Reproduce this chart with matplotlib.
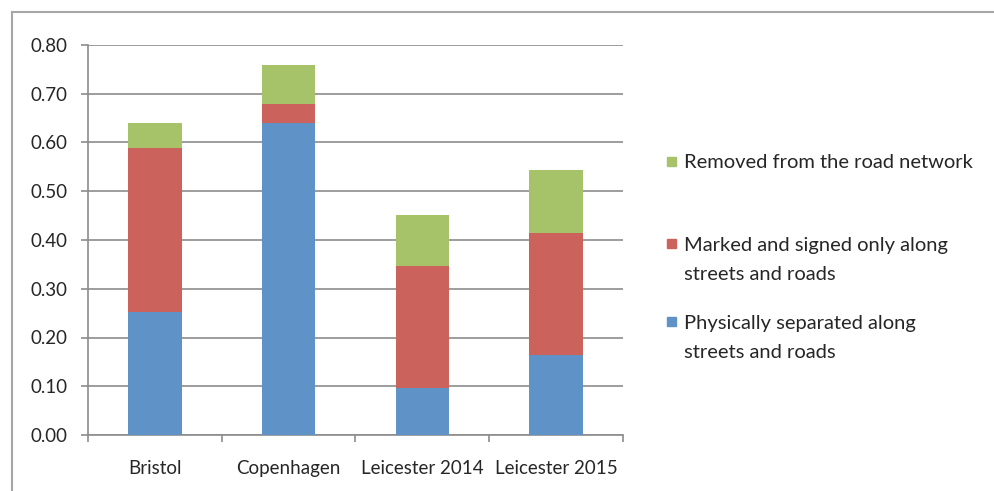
import matplotlib.pyplot as plt
from matplotlib.patches import Rectangle
from matplotlib.lines import Line2D
import numpy as np

# datos
ciudades = ['Bristol', 'Copenhagen', 'Leicester 2014', 'Leicester 2015']
separados = [0.252, 0.641, 0.097, 0.164]
marcados = [0.336, 0.039, 0.250, 0.250]
removidos = [0.053, 0.079, 0.104, 0.130]
etiquetas = ['Physically separated along\nstreets and roads',
             'Marked and signed only along\nstreets and roads',
             'Removed from the road network']
colores = ['#5f93c8', '#cb625b', '#a6c36a']

plt.rcParams['font.family'] = ['Lato', 'DejaVu Sans']

fig = plt.figure(figsize=(9.95, 4.91), dpi=100)
ax = fig.add_axes([88/995, 1 - 435/491, (623-88)/995, (435-45)/491])

# marco exterior gris (solo arriba e izquierda)
y_marco = 1 - 12/491
x_marco = 12/995
fig.lines.append(Line2D([x_marco, 1], [y_marco, y_marco], transform=fig.transFigure,
                        color='#a6a6a6', linewidth=1.5))
fig.lines.append(Line2D([x_marco, x_marco], [0, y_marco], transform=fig.transFigure,
                        color='#a6a6a6', linewidth=1.5))

x = np.arange(len(ciudades))
base2 = np.array(separados) + np.array(marcados)
ax.bar(x, separados, width=0.4, color=colores[0], zorder=3)
ax.bar(x, marcados, width=0.4, bottom=separados, color=colores[1], zorder=3)
ax.bar(x, removidos, width=0.4, bottom=base2, color=colores[2], zorder=3)

ax.set_xlim(-0.5, 3.5)
ax.set_ylim(0, 0.8)
ax.set_yticks(np.arange(0, 0.81, 0.1))
ax.set_yticklabels([f'{v:.2f}' for v in np.arange(0, 0.81, 0.1)], fontsize=13.5, color='#262626')
ax.yaxis.grid(True, color='#8c8c8c', linewidth=1.2, zorder=0)
ax.set_axisbelow(True)

for lado in ['top', 'right']:
    ax.spines[lado].set_visible(False)
ax.spines['left'].set_color('#8c8c8c')
ax.spines['bottom'].set_color('#8c8c8c')
ax.spines['left'].set_linewidth(1.2)
ax.spines['bottom'].set_linewidth(1.2)
ax.tick_params(axis='y', length=5, color='#8c8c8c', width=1.2, pad=10)

# ticks del eje x entre categorias
ax.set_xticks(np.arange(-0.5, 3.6, 1.0))
ax.set_xticklabels([])
ax.tick_params(axis='x', length=5, color='#8c8c8c', width=1.2)
for i, c in enumerate(ciudades):
    ax.text(i, -0.068, c, ha='center', va='center', fontsize=13.5, color='#262626')

# leyenda manual
pos_y = [[323, 353], [245, 275], [163]]
for col, lab, ys in zip(colores, etiquetas, pos_y):
    fig.patches.append(Rectangle((667/995, 1 - (ys[0] + 3)/491), 9/995, 9/491,
                                 transform=fig.transFigure, color=col))
    for k, linea in enumerate(lab.split('\n')):
        fig.text(684/995, 1 - ys[k]/491, linea, ha='left', va='center',
                 fontsize=14.5, color='#262626')

plt.savefig('out.png', dpi=100)
